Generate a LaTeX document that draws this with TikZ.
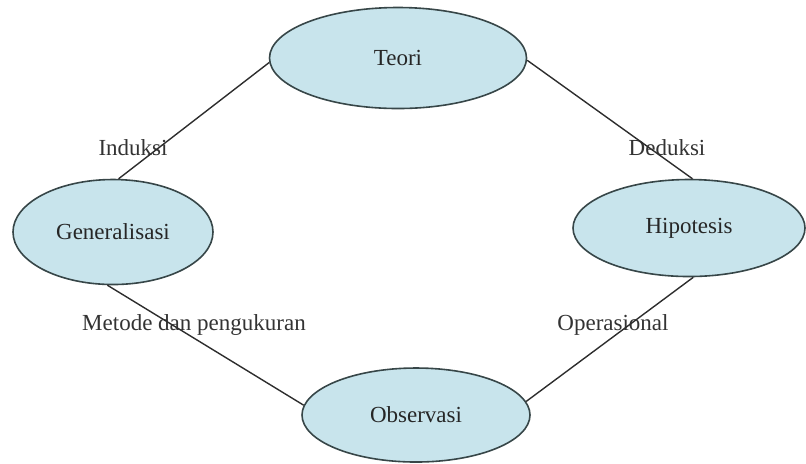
\documentclass[tikz,border=0pt]{standalone}
\usepackage{fontspec}
\setmainfont{Liberation Serif}
\usetikzlibrary{shapes.geometric}
\definecolor{fillblue}{RGB}{200,228,236}
\definecolor{edgegray}{RGB}{55,70,72}
\definecolor{linegray}{RGB}{45,45,45}
\tikzset{
  oval/.style={ellipse, draw=edgegray, line width=0.8pt, fill=fillblue, inner sep=0pt, font=\fontsize{11.5}{13}\selectfont, text=black!85},
  lbl/.style={font=\fontsize{11.5}{13}\selectfont, text=black!80, inner sep=0pt},
  conn/.style={draw=linegray, line width=0.7pt}
}
\begin{document}
\begin{tikzpicture}[x=0.5pt,y=-0.5pt]
\useasboundingbox (0,0) rectangle (806,463);
\node[lbl] (induksi) at (133,148) {Induksi};
\node[lbl] (deduksi) at (667,148) {Deduksi};
\node[lbl] (metode) at (194,325) {Metode dan pengukuran};
\node[lbl] (operasional) at (613,325) {Operasional};
\node[oval, minimum width=128.5pt, minimum height=50.5pt] (teori) at (398,58) {Teori};
\node[oval, minimum width=100pt, minimum height=52.5pt] (gen) at (113,232) {Generalisasi};
\node[oval, minimum width=116pt, minimum height=48.5pt] (hip) at (689,228) {Hipotesis};
\node[oval, minimum width=114pt, minimum height=47pt] (obs) at (416,415) {Observasi};
\draw[conn] (teori.182) -- (gen.84);
\draw[conn] (teori.359) -- (hip.86);
\draw[conn] (gen.264) -- (obs.175);
\draw[conn] (hip.275) -- (obs.7);
\end{tikzpicture}
\end{document}
